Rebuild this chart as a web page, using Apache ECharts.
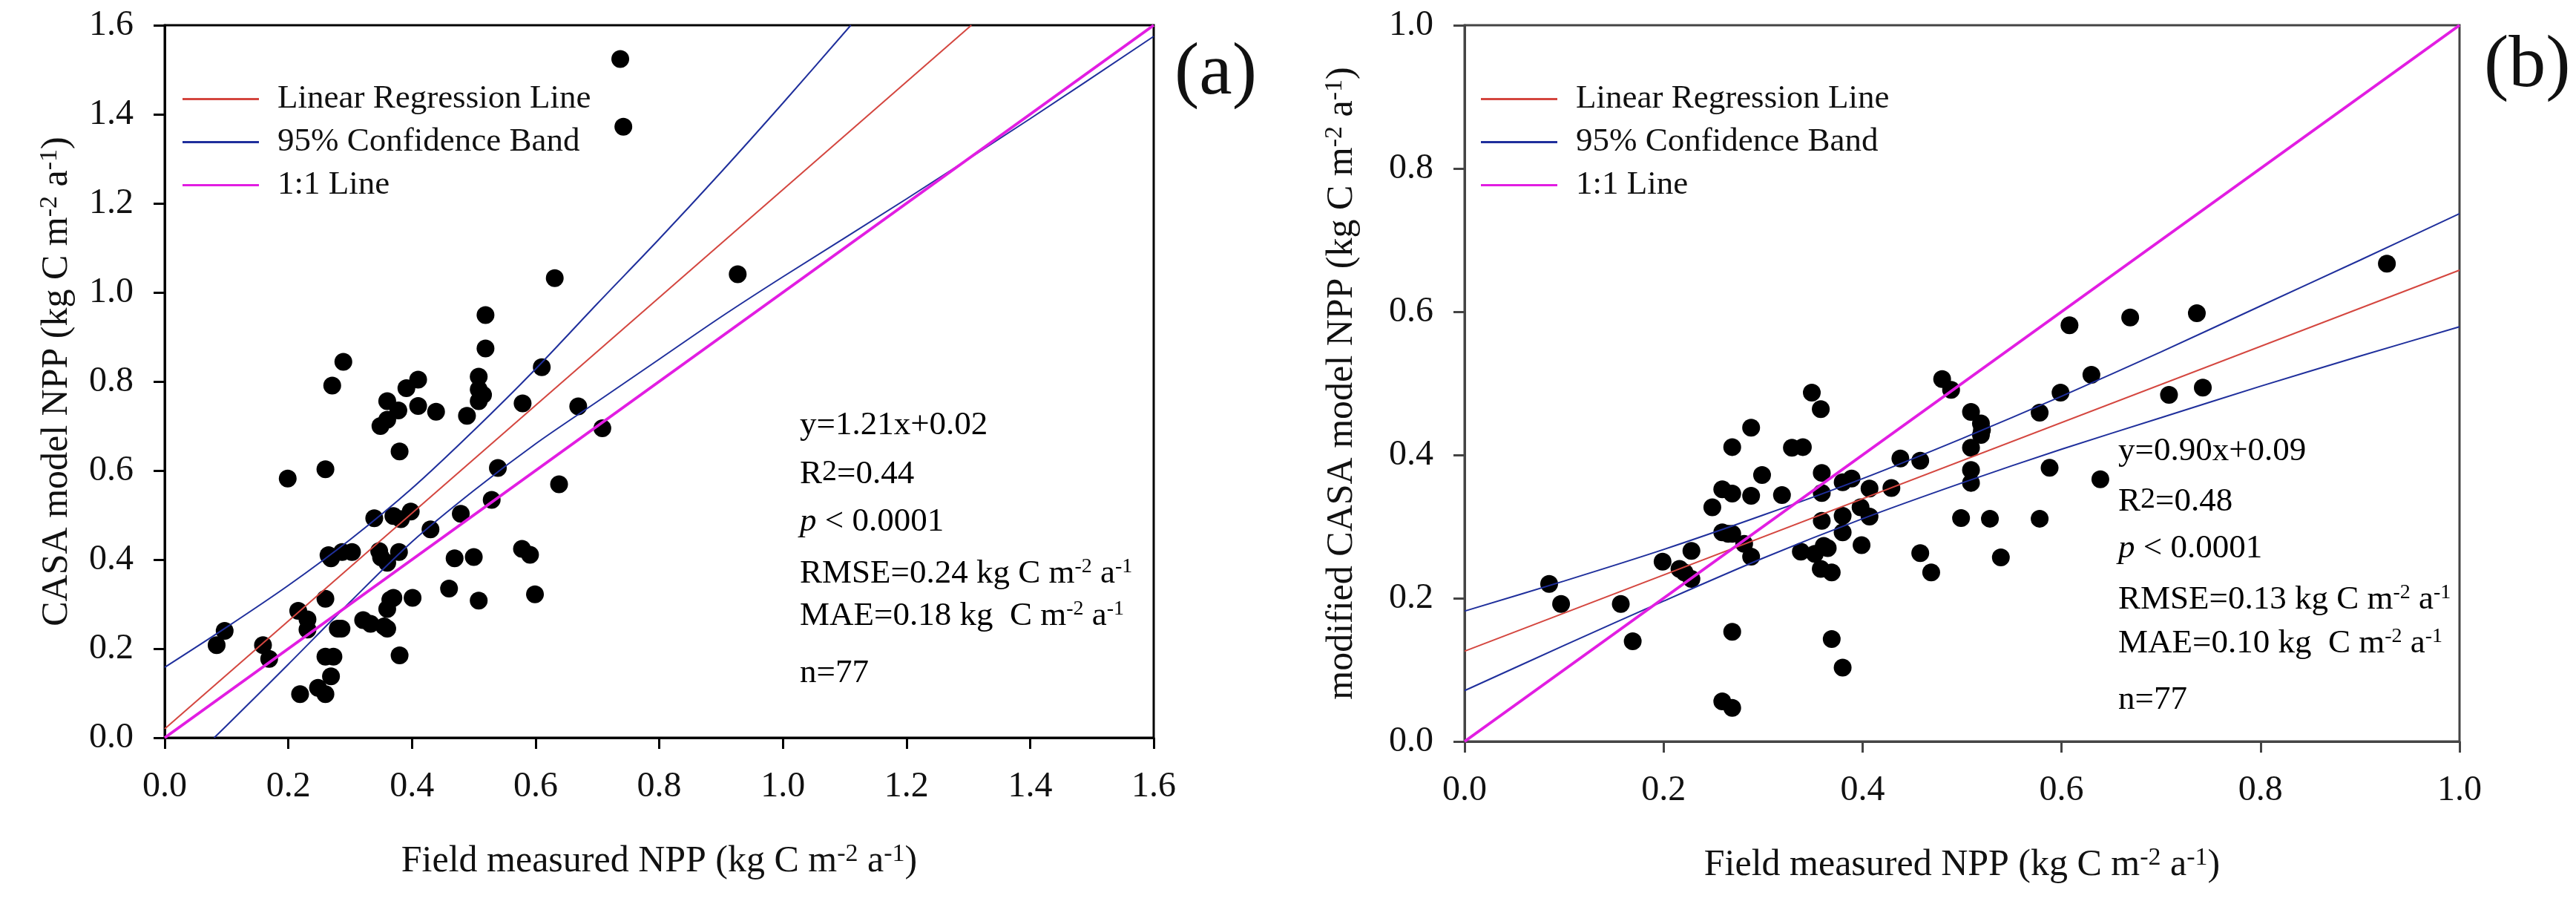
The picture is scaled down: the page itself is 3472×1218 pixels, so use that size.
<!DOCTYPE html>
<html>
<head>
<meta charset="utf-8">
<title>NPP comparison</title>
<script src="https://cdn.jsdelivr.net/npm/echarts@6/dist/echarts.min.js"></script>
<style>
  html, body { margin: 0; padding: 0; background: #fff; }
  #main { width: 3472px; height: 1218px; }
</style>
</head>
<body>
<div id="main"></div>
<script>
// panel (a): field measured vs CASA model NPP
var measuredA = [0.737, 0.742, 0.631, 0.927, 0.519, 0.519, 0.289, 0.271, 0.610, 0.508,
  0.508, 0.508, 0.410, 0.391, 0.410, 0.439, 0.489, 0.360, 0.378, 0.360,
  0.349, 0.579, 0.669, 0.708, 0.380, 0.260, 0.199, 0.539, 0.638, 0.529,
  0.339, 0.370, 0.382, 0.398, 0.479, 0.430, 0.269, 0.287, 0.303, 0.347,
  0.360, 0.379, 0.469, 0.500, 0.578, 0.591, 0.460, 0.508, 0.599, 0.260,
  0.370, 0.401, 0.360, 0.216, 0.231, 0.231, 0.321, 0.333, 0.286, 0.360,
  0.097, 0.084, 0.159, 0.169, 0.260, 0.273, 0.380, 0.269, 0.219, 0.248,
  0.260, 0.280, 0.350, 0.365, 0.265, 0.515, 0.355];
var casaA = [1.524, 1.372, 1.032, 1.041, 0.949, 0.874, 0.844, 0.791, 0.832, 0.811,
  0.782, 0.756, 0.804, 0.785, 0.745, 0.732, 0.723, 0.756, 0.735, 0.714,
  0.700, 0.751, 0.744, 0.695, 0.643, 0.603, 0.582, 0.606, 0.569, 0.534,
  0.493, 0.498, 0.491, 0.508, 0.503, 0.468, 0.403, 0.417, 0.417, 0.419,
  0.393, 0.417, 0.403, 0.406, 0.424, 0.411, 0.335, 0.308, 0.322, 0.312,
  0.314, 0.314, 0.289, 0.285, 0.266, 0.243, 0.264, 0.256, 0.245, 0.245,
  0.240, 0.208, 0.208, 0.177, 0.182, 0.182, 0.185, 0.138, 0.098, 0.112,
  0.098, 0.245, 0.405, 0.310, 0.410, 0.770, 0.250];

// panel (b): field measured vs modified CASA model NPP
var measuredB = [0.927, 0.736, 0.669, 0.608, 0.630, 0.599, 0.708, 0.742, 0.578, 0.480,
  0.489, 0.509, 0.519, 0.519, 0.509, 0.509, 0.509, 0.588, 0.639, 0.349,
  0.358, 0.288, 0.269, 0.329, 0.340, 0.438, 0.458, 0.299, 0.359, 0.380,
  0.389, 0.407, 0.429, 0.259, 0.269, 0.288, 0.319, 0.359, 0.249, 0.398,
  0.407, 0.359, 0.380, 0.499, 0.528, 0.578, 0.259, 0.269, 0.380, 0.281,
  0.399, 0.361, 0.288, 0.338, 0.352, 0.358, 0.369, 0.458, 0.469, 0.539,
  0.199, 0.228, 0.216, 0.228, 0.085, 0.097, 0.157, 0.169, 0.269, 0.369,
  0.380, 0.259, 0.269, 0.221, 0.265, 0.520, 0.365];
var modCasaB = [0.667, 0.598, 0.592, 0.581, 0.512, 0.487, 0.484, 0.494, 0.459, 0.506,
  0.491, 0.460, 0.444, 0.428, 0.410, 0.379, 0.361, 0.382, 0.366, 0.487,
  0.464, 0.438, 0.411, 0.410, 0.411, 0.395, 0.392, 0.372, 0.375, 0.362,
  0.367, 0.353, 0.354, 0.352, 0.346, 0.343, 0.344, 0.347, 0.327, 0.327,
  0.314, 0.308, 0.315, 0.312, 0.311, 0.311, 0.292, 0.290, 0.292, 0.276,
  0.274, 0.273, 0.258, 0.265, 0.262, 0.241, 0.236, 0.263, 0.236, 0.257,
  0.251, 0.266, 0.241, 0.227, 0.220, 0.192, 0.192, 0.140, 0.153, 0.143,
  0.103, 0.056, 0.047, 0.236, 0.290, 0.435, 0.270];

// fitted lines as drawn in the figure
var regLineA = [[0, 0.02], [1.305, 1.6]];
var bandUpA = [[0, 0.158], [0.1, 0.248], [0.2, 0.342], [0.3, 0.445], [0.4, 0.56], [0.5, 0.69],
  [0.6, 0.828], [0.7, 0.975], [0.8, 1.12], [0.9, 1.27], [1.0, 1.425], [1.11, 1.6]];
var bandLowA = [[0.08, 0], [0.1, 0.027], [0.2, 0.165], [0.3, 0.305], [0.4, 0.44], [0.5, 0.555],
  [0.6, 0.66], [0.7, 0.755], [0.8, 0.85], [0.9, 0.945], [1.0, 1.035], [1.2, 1.21], [1.4, 1.39], [1.6, 1.575]];
var oneToOneA = [[0, 0], [1.6, 1.6]];

var regLineB = [[0, 0.126], [1.0, 0.658]];
var bandUpB = [[0, 0.182], [0.1, 0.224], [0.2, 0.268], [0.3, 0.316], [0.4, 0.367], [0.5, 0.423],
  [0.6, 0.482], [0.7, 0.544], [0.8, 0.608], [0.9, 0.672], [1.0, 0.737]];
var bandLowB = [[0, 0.071], [0.1, 0.134], [0.2, 0.196], [0.3, 0.256], [0.4, 0.311], [0.5, 0.361],
  [0.6, 0.408], [0.7, 0.452], [0.8, 0.496], [0.9, 0.538], [1.0, 0.579]];
var oneToOneB = [[0, 0], [1.0, 1.0]];

var legendNames = ['Linear Regression Line', '95% Confidence Band', '1:1 Line'];

var FONT = '"Liberation Serif", "Times New Roman", serif';
var RED = '#d4463f', BLUE = '#1f2f9c', PINK = '#e21de2';

function pairs(xs, ys) {
  return xs.map(function (x, i) { return [x, ys[i]]; });
}

var supRich = {
  n: { fontFamily: FONT, fontSize: 50, lineHeight: 52, color: '#111', verticalAlign: 'bottom' },
  s: { fontFamily: FONT, fontSize: 34, lineHeight: 34, color: '#111', verticalAlign: 'top', padding: [0, 0, 32, 0] }
};
var unitName = function (pre) {
  return '{n|' + pre + ' (kg C m}{s|-2}{n| a}{s|-1}{n|)}';
};

function makeX(idx, max, color) {
  return {
    gridIndex: idx, type: 'value', min: 0, max: max, interval: 0.2,
    name: unitName('Field measured NPP'), nameLocation: 'middle', nameGap: 140,
    nameTextStyle: { rich: supRich },
    axisLine: { show: true, onZero: false, lineStyle: { color: color, width: 3 } },
    axisTick: { show: true, inside: false, length: 15, lineStyle: { color: color, width: 3 } },
    axisLabel: { fontFamily: FONT, fontSize: 48, color: '#111', margin: 42,
      formatter: function (v) { return v.toFixed(1); } },
    splitLine: { show: false }
  };
}
function makeY(idx, max, color, pre, gap) {
  return {
    gridIndex: idx, type: 'value', min: 0, max: max, interval: 0.2,
    name: unitName(pre), nameLocation: 'middle', nameGap: gap,
    nameTextStyle: { rich: supRich },
    axisLine: { show: true, onZero: false, lineStyle: { color: color, width: 3 } },
    axisTick: { show: true, inside: false, length: 15, lineStyle: { color: color, width: 3 } },
    axisLabel: { fontFamily: FONT, fontSize: 48, color: '#111', margin: 42,
      formatter: function (v) { return v.toFixed(1); } },
    splitLine: { show: false }
  };
}

function lineSeries(idx, name, data, color, width, z) {
  return {
    type: 'line', name: name, xAxisIndex: idx, yAxisIndex: idx, data: data,
    showSymbol: false, symbol: 'none', smooth: 0.3, clip: true, z: z,
    lineStyle: { color: color, width: width }, itemStyle: { color: color },
    silent: true, animation: false
  };
}
function scatterSeries(idx, data) {
  return {
    type: 'scatter', xAxisIndex: idx, yAxisIndex: idx, data: data,
    symbolSize: 24, itemStyle: { color: '#000', opacity: 1 }, z: 2, animation: false
  };
}

// annotation block; y is centre of main text
var annRich = {
  n: { fontFamily: FONT, fontSize: 45, lineHeight: 46, color: '#111', verticalAlign: 'bottom' },
  i: { fontFamily: FONT, fontSize: 45, lineHeight: 46, color: '#111', fontStyle: 'italic', verticalAlign: 'bottom' },
  s: { fontFamily: FONT, fontSize: 28, lineHeight: 28, color: '#111', verticalAlign: 'top', padding: [0, 0, 28, 0] },
  r: { fontFamily: FONT, fontSize: 40, lineHeight: 40, color: '#111', verticalAlign: 'top', padding: [0, 0, 28, 0] }
};
function annText(x, y, text, shift) {
  return { type: 'text', x: x, y: y - shift, z: 100,
    style: { text: text, rich: annRich, verticalAlign: 'middle', align: 'left' } };
}
function annBlock(x, ys, eq, r2, rmse, mae) {
  return [
    annText(x, ys[0], '{n|' + eq + '}', 0),
    annText(x, ys[1], '{n|R}{r|2}{n|=' + r2 + '}', 11),
    annText(x, ys[2], '{i|p}{n| < 0.0001}', 0),
    annText(x, ys[3], '{n|RMSE=' + rmse + ' kg C m}{s|-2}{n| a}{s|-1}', 5),
    annText(x, ys[4], '{n|MAE=' + mae + ' kg  C m}{s|-2}{n| a}{s|-1}', 5),
    annText(x, ys[5], '{n|n=77}', 0)
  ];
}

var chart = echarts.init(document.getElementById('main'), null, { renderer: 'canvas' });

var legendText = { fontFamily: FONT, fontSize: 45, lineHeight: 45, color: '#111', padding: [0, 0, 0, 20] };

var option = {
  backgroundColor: '#fff',
  animation: false,
  grid: [
    { left: 222, top: 34, width: 1333, height: 960, show: true, borderColor: '#000', borderWidth: 3, backgroundColor: 'transparent' },
    { left: 1974, top: 34, width: 1341, height: 965, show: true, borderColor: '#444', borderWidth: 3, backgroundColor: 'transparent' }
  ],
  xAxis: [makeX(0, 1.6, '#000'), makeX(1, 1.0, '#444')],
  yAxis: [makeY(0, 1.6, '#000', 'CASA model NPP', 118), makeY(1, 1.0, '#444', 'modified CASA model NPP', 140)],
  legend: [
    { data: legendNames, orient: 'vertical', left: 241, top: 106, itemWidth: 103, itemHeight: 3, icon: 'rect',
      itemGap: 13, textStyle: legendText, selectedMode: false },
    { data: legendNames, orient: 'vertical', left: 1991, top: 106, itemWidth: 103, itemHeight: 3, icon: 'rect',
      itemGap: 13, textStyle: legendText, selectedMode: false }
  ],
  series: [
    scatterSeries(0, pairs(measuredA, casaA)),
    lineSeries(0, 'Linear Regression Line', regLineA, RED, 2, 5),
    lineSeries(0, '95% Confidence Band', bandUpA, BLUE, 2, 5),
    lineSeries(0, '95% Confidence Band', bandLowA, BLUE, 2, 5),
    lineSeries(0, '1:1 Line', oneToOneA, PINK, 4, 6),
    scatterSeries(1, pairs(measuredB, modCasaB)),
    lineSeries(1, 'Linear Regression Line', regLineB, RED, 2, 5),
    lineSeries(1, '95% Confidence Band', bandUpB, BLUE, 2, 5),
    lineSeries(1, '95% Confidence Band', bandLowB, BLUE, 2, 5),
    lineSeries(1, '1:1 Line', oneToOneB, PINK, 4, 6)
  ],
  graphic: [
    { type: 'text', x: 1583, y: 100, style: { text: '(a)', fontFamily: FONT, fontSize: 100, fill: '#111', verticalAlign: 'middle' } },
    { type: 'text', x: 3348, y: 90, style: { text: '(b)', fontFamily: FONT, fontSize: 100, fill: '#111', verticalAlign: 'middle' } }
  ].concat(
    annBlock(1078, [573, 650, 703, 778, 835, 907], 'y=1.21x+0.02', '0.44', '0.24', '0.18'),
    annBlock(2855, [608, 687, 739, 813, 872, 943], 'y=0.90x+0.09', '0.48', '0.13', '0.10')
  )
};

chart.setOption(option);
</script>
</body>
</html>
